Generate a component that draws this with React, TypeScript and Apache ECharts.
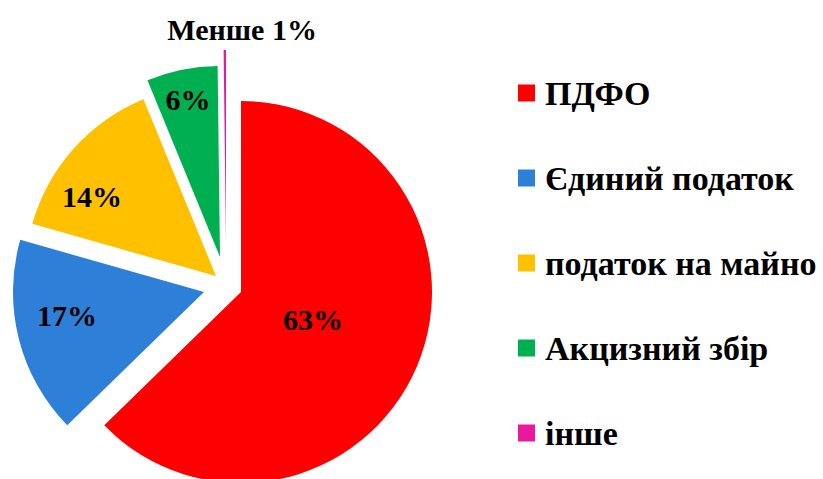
import React, { useEffect, useRef } from "react";
import * as echarts from "echarts";

const categories = ["ПДФО", "Єдиний податок", "податок на майно", "Акцизний збір", "інше"];
const values = [62.7, 16.7, 14.4, 6.0, 0.2];
const colors = ["#FF0000", "#2E7FD8", "#FFC000", "#00B050", "#E8189F"];

// layout constants (pixels)
const CX = 241;
const CY = 292;
const R = 191;
const explode: [number, number][] = [[0, 0], [-37, 0], [-25, -16], [-21, -35], [-15, -51]];
const labelPolar: [number, number][] = [[0.403, -2.3], [0.728, 4.3], [0.77, -9.2], [0.839, 0], [1.113, 4.7]];

const FONT = "'Liberation Serif', 'Times New Roman', serif";

const total = values.reduce((a, b) => a + b, 0);
const midAngles = values.map((v, i) => {
  const before = values.slice(0, i).reduce((a, b) => a + b, 0);
  return ((before + v / 2) / total) * 360;
});

export default function App() {
  const ref = useRef<HTMLDivElement>(null);
  useEffect(() => {
    if (!ref.current) return;
    const chart = echarts.init(ref.current, null, { renderer: "svg" });
    const series = values.map((_, i) => ({
      type: "pie",
      center: [CX + explode[i][0], CY + explode[i][1]],
      radius: R,
      startAngle: 90,
      clockwise: true,
      silent: true,
      avoidLabelOverlap: false,
      emphasis: { disabled: true },
      labelLine: { show: false },
      label: {
        show: true,
        position: "inside",
        fontFamily: FONT,
        fontWeight: "bold",
        fontSize: 30,
        color: "#000",
        formatter: (p: any) => (p.percent < 1 ? "Менше 1%" : Math.round(p.percent) + "%"),
      },
      labelLayout: () => {
        const [fr, dt] = labelPolar[i];
        const a = ((midAngles[i] + dt) * Math.PI) / 180;
        return {
          x: CX + explode[i][0] + fr * R * Math.sin(a),
          y: CY + explode[i][1] - fr * R * Math.cos(a),
          align: "center",
          verticalAlign: "middle",
        };
      },
      data: values.map((v, j) => ({
        value: v,
        name: categories[j],
        itemStyle: { color: j === i ? colors[j] : "rgba(0,0,0,0)" },
        label: { show: j === i },
      })),
    }));
    chart.setOption({
      animation: false,
      backgroundColor: "#fff",
      legend: {
        orient: "vertical",
        left: 518,
        top: 76,
        padding: 0,
        itemWidth: 17,
        itemHeight: 17,
        itemGap: 51,
        selectedMode: false,
        icon: "rect",
        textStyle: {
          fontFamily: FONT,
          fontWeight: "bold",
          fontSize: 34,
          lineHeight: 34,
          color: "#000",
          padding: [0, 0, 0, 5],
        },
        data: categories.map((c, j) => ({ name: c, itemStyle: { color: colors[j] } })),
      },
      series,
    } as any);
    return () => chart.dispose();
  }, []);
  return (
    <div
      ref={ref}
      style={{ position: "absolute", left: 0, top: 0, width: 823, height: 479 }}
    />
  );
}
